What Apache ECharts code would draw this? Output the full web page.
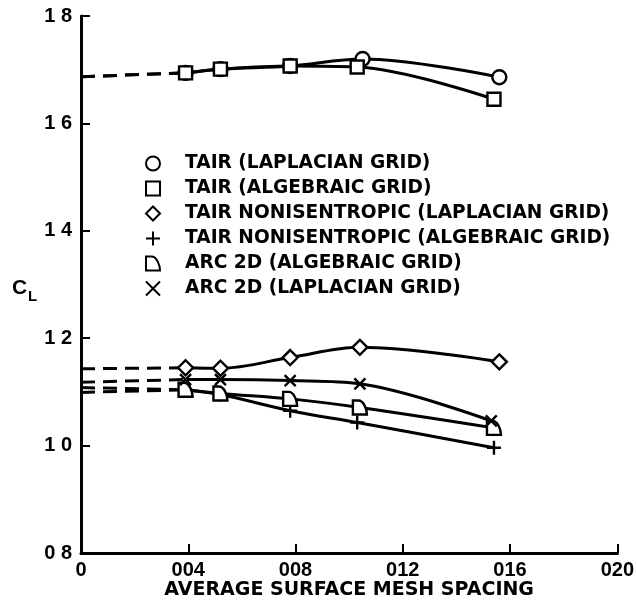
<!DOCTYPE html>
<html>
<head>
<meta charset="utf-8">
<script src="https://cdn.jsdelivr.net/npm/echarts@6/dist/echarts.min.js"></script>
<style>
html,body{margin:0;padding:0;background:#fff;}
#chart{width:637px;height:609px;}
</style>
</head>
<body>
<div id="chart"></div>
<script>
// ---- data ----
const xTickLabels = ['0', '004', '008', '012', '016', '020'];
const yTickLabels = ['0 8', '1 0', '1 2', '1 4', '1 6', '1 8'];

const seriesNames = [
  'TAIR (LAPLACIAN GRID)',
  'TAIR (ALGEBRAIC GRID)',
  'TAIR NONISENTROPIC (LAPLACIAN GRID)',
  'TAIR NONISENTROPIC (ALGEBRAIC GRID)',
  'ARC 2D (ALGEBRAIC GRID)',
  'ARC 2D (LAPLACIAN GRID)'
];

const tairLapX = [0.0039, 0.0052, 0.0078, 0.0105, 0.0156];
const tairLapY = [1.694, 1.701, 1.707, 1.720, 1.686];

const tairAlgX = [0.0039, 0.0052, 0.0078, 0.0103, 0.0154];
const tairAlgY = [1.694, 1.701, 1.707, 1.705, 1.645];

const tairNonLapX = [0.0039, 0.0052, 0.0078, 0.0104, 0.0156];
const tairNonLapY = [1.145, 1.144, 1.164, 1.183, 1.156];

const tairNonAlgX = [0.0039, 0.0052, 0.0078, 0.0103, 0.0154];
const tairNonAlgY = [1.104, 1.095, 1.065, 1.043, 0.996];

const arcAlgX = [0.0039, 0.0052, 0.0078, 0.0104, 0.0154];
const arcAlgY = [1.104, 1.097, 1.087, 1.071, 1.033];

const arcLapX = [0.0039, 0.0052, 0.0078, 0.0104, 0.0153];
const arcLapY = [1.123, 1.123, 1.121, 1.115, 1.046];

// extrapolated (dashed) values at zero spacing, same order as seriesNames
const extrapY = [1.687, 1.687, 1.143, 1.108, 1.099, 1.118];

// ---- styling ----
const SYM_CIRCLE = 'circle';
const SYM_SQUARE = 'path://M0,0L10,0L10,10L0,10Z';
const SYM_DIAMOND = 'path://M5,0L10,5L5,10L0,5Z';
const SYM_PLUS = 'path://M5,0L5,10M0,5L10,5';
const SYM_X = 'path://M0,0L10,10M10,0L0,10';
const SYM_D = 'path://M0,10L0,0L4,0C7.5,0 10,6 10,10Z';
const symbols = [SYM_CIRCLE, SYM_SQUARE, SYM_DIAMOND, SYM_PLUS, SYM_D, SYM_X];
const symbolSizes = [14, 13, 15, 14, 14, 11];

const xs = [tairLapX, tairAlgX, tairNonLapX, tairNonAlgX, arcAlgX, arcLapX];
const ys = [tairLapY, tairAlgY, tairNonLapY, tairNonAlgY, arcAlgY, arcLapY];

const series = [];
// dashed extrapolations
for (let i = 0; i < seriesNames.length; i++) {
  series.push({
    type: 'line',
    name: 'extrap' + i,
    data: [[0, extrapY[i]], [xs[i][0], ys[i][0]]],
    symbol: 'none',
    silent: true,
    lineStyle: {color: '#000', width: 3, type: [14, 8]},
    z: 1
  });
}
for (let i = 0; i < seriesNames.length; i++) {
  series.push({
    type: 'line',
    name: seriesNames[i],
    data: xs[i].map((x, k) => [x, ys[i][k]]),
    smooth: 0.35,
    symbol: symbols[i],
    symbolSize: symbolSizes[i],
    showAllSymbol: true,
    lineStyle: {color: '#000', width: 3},
    itemStyle: {color: '#fff', borderColor: '#000', borderWidth: 2.4},
    z: 2 + i
  });
}

const legendData = seriesNames.map((n, i) => ({
  name: n,
  icon: symbols[i],
  itemStyle: {color: '#fff', borderColor: '#000', borderWidth: 2}
}));

const chart = echarts.init(document.getElementById('chart'), null, {renderer: 'canvas'});
chart.setOption({
  animation: false,
  backgroundColor: '#fff',
  grid: {left: 81, right: 18, top: 16, bottom: 56},
  legend: {
    orient: 'vertical',
    left: 140,
    top: 149,
    padding: 5,
    itemWidth: 54,
    itemHeight: 14,
    itemGap: 6,
    selectedMode: false,
    data: legendData,
    textStyle: {fontFamily: 'DejaVu Sans', fontWeight: 'bold', fontSize: 18.6, color: '#000'}
  },
  xAxis: {
    type: 'value',
    min: 0, max: 0.020, interval: 0.004,
    name: 'AVERAGE SURFACE MESH SPACING',
    nameLocation: 'middle',
    nameGap: 28,
    nameMoveOverlap: false,
    nameTextStyle: {fontFamily: 'DejaVu Sans', fontWeight: 'bold', fontSize: 19, color: '#000'},
    axisLine: {onZero: false, lineStyle: {color: '#000', width: 3}},
    axisTick: {inside: true, length: 9, lineStyle: {color: '#000', width: 2}},
    splitLine: {show: false},
    axisLabel: {
      margin: 7,
      color: '#000',
      fontFamily: 'Liberation Sans', fontWeight: 'bold', fontSize: 20,
      formatter: (v) => xTickLabels[Math.round(v / 0.004)]
    }
  },
  yAxis: {
    type: 'value',
    min: 0.8, max: 1.8, interval: 0.2,
    axisLine: {onZero: false, lineStyle: {color: '#000', width: 3}},
    axisTick: {inside: true, length: 9, lineStyle: {color: '#000', width: 2}},
    splitLine: {show: false},
    axisLabel: {
      margin: 9,
      color: '#000',
      fontFamily: 'Liberation Sans', fontWeight: 'bold', fontSize: 20,
      formatter: (v) => yTickLabels[Math.round((v - 0.8) / 0.2)]
    }
  },
  graphic: [
    {type: 'text', left: 12, top: 278, style: {text: 'C', fontFamily: 'Liberation Sans', fontWeight: 'bold', fontSize: 21, fill: '#000'}},
    {type: 'text', left: 28, top: 289, style: {text: 'L', fontFamily: 'Liberation Sans', fontWeight: 'bold', fontSize: 15, fill: '#000'}}
  ],
  series: series
});
</script>
</body>
</html>
